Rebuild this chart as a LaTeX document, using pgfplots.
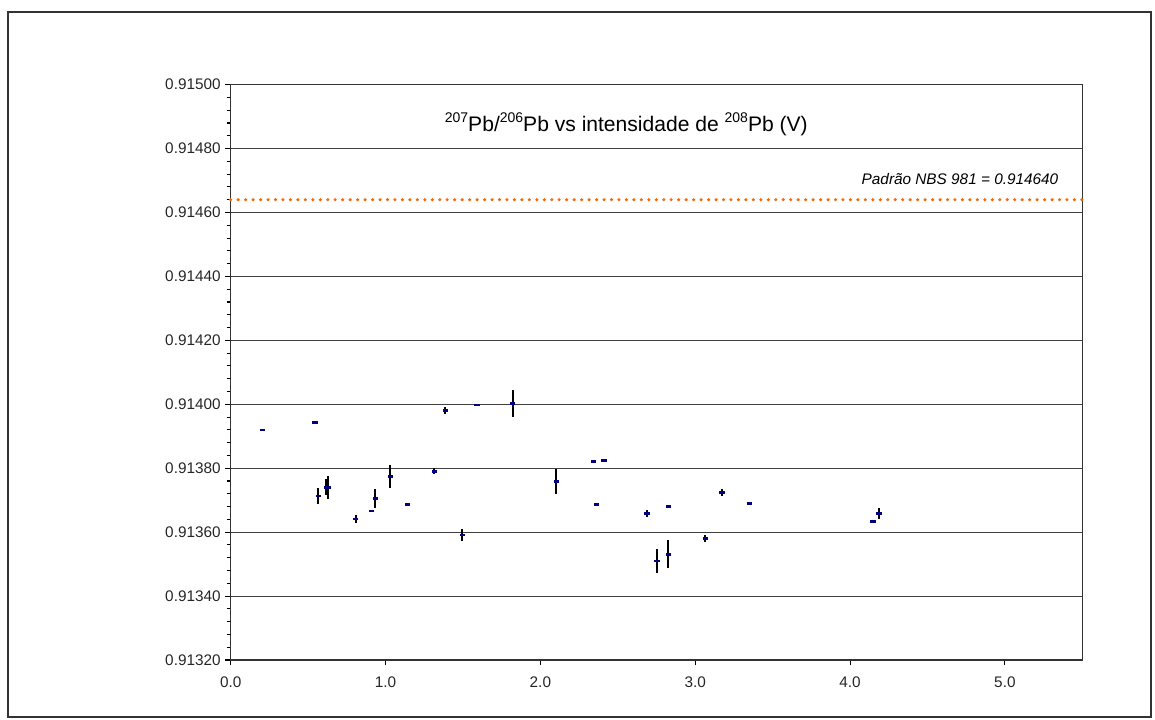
\documentclass[border=0pt]{standalone}
\usepackage{fontspec}
\setmainfont{Liberation Sans}
\usepackage{pgfplots}
\pgfplotsset{compat=1.18}
\usepackage{pgfplotstable}

\definecolor{navyblue}{RGB}{0,0,128}
\definecolor{nbsorange}{RGB}{255,102,0}
\newcommand\sps[1]{\raisebox{0.42em}{\fontsize{10.5}{11}\selectfont #1}}

% x = intensidade 208Pb (V), y = 207Pb/206Pb, ey = erro
\pgfplotstableread{
x      y         ey
0.204  0.913920  0
0.544  0.913944  0
0.567  0.913713  0.0000240
0.617  0.913740  0.0000250
0.629  0.913739  0.0000365
0.808  0.913641  0.0000115
0.909  0.913666  0
0.935  0.913706  0.0000300
1.032  0.913775  0.0000365
1.143  0.913686  0
1.315  0.913790  0.0000094
1.386  0.913981  0.0000115
1.496  0.913591  0.0000180
1.590  0.913998  0
1.822  0.914002  0.0000417
2.104  0.913758  0.0000390
2.342  0.913820  0
2.362  0.913686  0
2.411  0.913825  0
2.689  0.913659  0.0000110
2.753  0.913510  0.0000365
2.826  0.913531  0.0000430
2.828  0.913680  0
3.065  0.913580  0.0000120
3.172  0.913724  0.0000115
3.350  0.913690  0
4.148  0.913633  0
4.188  0.913658  0.0000177
}\pbdata

\begin{document}
\begin{tikzpicture}
\begin{axis}[
  at={(0pt,0pt)}, anchor=south west,
  scale only axis,
  width=638.7pt, height=431.5pt,
  xmin=0, xmax=5.5,
  ymin=0.9132, ymax=0.915,
  scaled y ticks=false, scaled x ticks=false,
  xtick={0,1,2,3,4,5},
  xticklabels={0.0,1.0,2.0,3.0,4.0,5.0},
  ytick={0.9132,0.9134,0.9136,0.9138,0.914,0.9142,0.9144,0.9146,0.9148,0.915},
  yticklabels={0.91320,0.91340,0.91360,0.91380,0.91400,0.91420,0.91440,0.91460,0.91480,0.91500},
  minor ytick={0.91324,0.91328,0.91332,0.91336,
               0.91344,0.91348,0.91352,0.91356,
               0.91364,0.91368,0.91372,0.91376,
               0.91384,0.91388,0.91392,0.91396,
               0.91404,0.91408,0.91412,0.91416,
               0.91424,0.91428,0.91432,0.91436,
               0.91444,0.91448,0.91452,0.91456,
               0.91464,0.91468,0.91472,0.91476,
               0.91484,0.91488,0.91492,0.91496},
  tick pos=left,
  tick align=outside,
  major tick length=4pt,
  minor tick length=3pt,
  tick style={black, line width=0.8pt},
  minor tick style={black, line width=0.8pt},
  ymajorgrids,
  grid style={black!75, line width=0.75pt},
  minor grid style={draw=none},
  axis line style={black!80, line width=0.9pt},
  tick label style={font=\fontsize{11.5}{13}\selectfont, text=black!85},
  xticklabel style={yshift=-5pt},
  clip=false,
]
\addplot[color=nbsorange, line width=2.6pt, line cap=round,
  dash pattern=on 0pt off 5.6pt]
  coordinates {(0,0.91464) (5.5,0.91464)};

\addplot[only marks, mark=-, mark size=2pt,
  mark options={color=navyblue, line width=2pt},
  error bars/.cd, y dir=both, y explicit,
  error mark=none,
  error bar style={black, line width=1.5pt}]
  table[x=x, y=y, y error=ey] {\pbdata};

\node[font=\fontsize{15.8}{18}\selectfont] at (axis cs:2.555,0.914877)
  {\sps{207}Pb/\sps{206}Pb vs intensidade de \sps{208}Pb (V)};
\node[font=\fontsize{11.5}{13}\selectfont\itshape, anchor=east]
  at (axis cs:5.375,0.9147044) {Padrão NBS 981 = 0.914640};
\end{axis}
\begin{scope}[shift={(-173.025pt,495pt)}, x=0.75pt, y=-0.75pt]
\useasboundingbox (0,0) rectangle (1155,720);
\draw[black!80, line width=1.5pt] (8,12) rectangle (1151,717);
\end{scope}
\end{tikzpicture}
\end{document}
